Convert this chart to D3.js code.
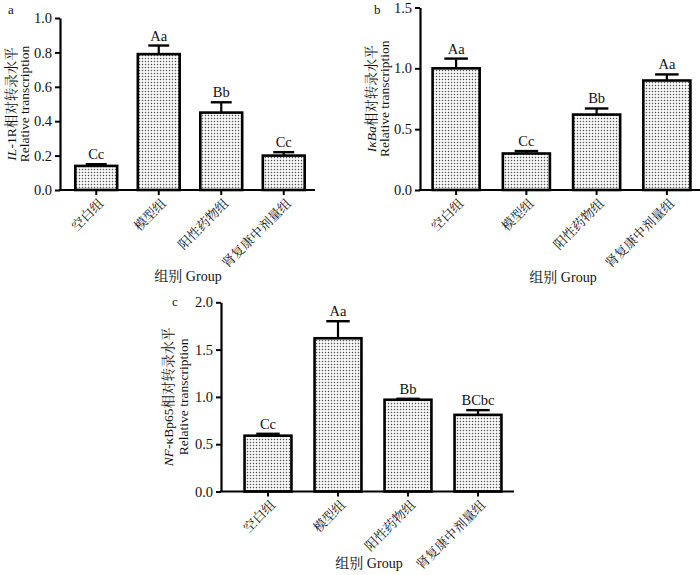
<!DOCTYPE html>
<html><head><meta charset="utf-8">
<script src="https://cdn.jsdelivr.net/npm/d3@7"></script>
<style>
html,body{margin:0;padding:0;background:#fff;}
svg{display:block;}
text{font-family:"Liberation Serif","Noto Serif CJK SC","Noto Sans CJK SC",serif;fill:#111;}
</style></head>
<body>
<svg id="chart" width="700" height="575"></svg>
<script>
// ---- data ----
const categories = ["空白组", "模型组", "阳性药物组", "肾复康中剂量组"];

const il1rValues = [0.14, 0.79, 0.45, 0.20];
const il1rErrors = [0.01, 0.05, 0.06, 0.02];
const il1rLetters = ["Cc", "Aa", "Bb", "Cc"];
const il1rTicks = [0, 0.2, 0.4, 0.6, 0.8, 1.0];

const ikbaValues = [1.00, 0.30, 0.62, 0.90];
const ikbaErrors = [0.08, 0.02, 0.05, 0.05];
const ikbaLetters = ["Aa", "Cc", "Bb", "Aa"];
const ikbaTicks = [0, 0.5, 1.0, 1.5];

const nfValues = [0.59, 1.62, 0.97, 0.81];
const nfErrors = [0.02, 0.18, 0.01, 0.05];
const nfLetters = ["Cc", "Aa", "Bb", "BCbc"];
const nfTicks = [0, 0.5, 1.0, 1.5, 2.0];

const xTitle = "组别 Group";
const yTitle2 = "Relative transcription";

// ---- layout ----
const svg = d3.select("#chart");
const defs = svg.append("defs");
const pat = defs.append("pattern").attr("id", "dots")
  .attr("patternUnits", "userSpaceOnUse").attr("width", 3).attr("height", 3);
pat.append("rect").attr("width", 3).attr("height", 3).attr("fill", "#fff");
pat.append("rect").attr("x", 0.8).attr("y", 0.8).attr("width", 1.4).attr("height", 1.4).attr("fill", "#555");

const panels = [
  {letter: "a", values: il1rValues, errors: il1rErrors, sig: il1rLetters, ticks: il1rTicks,
   ymax: 1.0, axisX: 60, xr: [65, 315], xEnd: 315, y0: 190, y1: 18, t1: 44, t2: 31,
   title1: [["IL", true], ["-1R相对转录水平", false]], letterPos: [8, 14], xTitlePos: [188, 281]},
  {letter: "b", values: ikbaValues, errors: ikbaErrors, sig: ikbaLetters, ticks: ikbaTicks,
   ymax: 1.5, axisX: 420, xr: [421, 702], xEnd: 700, y0: 190, y1: 7.5, t1: 44, t2: 31,
   title1: [["IκBa", true], ["相对转录水平", false]], letterPos: [374, 14], xTitlePos: [563, 282]},
  {letter: "c", values: nfValues, errors: nfErrors, sig: nfLetters, ticks: nfTicks,
   ymax: 2.0, axisX: 221, xr: [233, 513], xEnd: 514, y0: 491.5, y1: 302.3, t1: 48, t2: 33,
   title1: [["NF", true], ["-κBp65相对转录水平", false]], letterPos: [172, 306], xTitlePos: [369, 568]}
];

panels.forEach(p => {
  const g = svg.append("g");
  const x = d3.scaleBand().domain(categories).range(p.xr).paddingInner(0.33).paddingOuter(0.165);
  const y = d3.scaleLinear().domain([0, p.ymax]).range([p.y0, p.y1]);

  // bars
  g.selectAll("rect.bar").data(categories).join("rect")
    .attr("class", "bar")
    .attr("x", d => x(d))
    .attr("width", x.bandwidth())
    .attr("y", (d, i) => y(p.values[i]))
    .attr("height", (d, i) => y(0) - y(p.values[i]))
    .attr("fill", "url(#dots)")
    .attr("stroke", "#000").attr("stroke-width", 2.6);

  // error bars
  const capW = x.bandwidth() * 0.5;
  categories.forEach((c, i) => {
    const cx = x(c) + x.bandwidth() / 2;
    const top = y(p.values[i] + p.errors[i]);
    g.append("line").attr("x1", cx).attr("x2", cx)
      .attr("y1", y(p.values[i])).attr("y2", top)
      .attr("stroke", "#000").attr("stroke-width", 2.2);
    g.append("line").attr("x1", cx - capW / 2).attr("x2", cx + capW / 2)
      .attr("y1", top).attr("y2", top)
      .attr("stroke", "#000").attr("stroke-width", 2.4);
    g.append("text").attr("x", cx).attr("y", top - 5)
      .attr("text-anchor", "middle").attr("font-size", 14.5)
      .text(p.sig[i]);
  });

  // y axis
  const yAxis = d3.axisLeft(y).tickValues(p.ticks).tickFormat(d3.format(".1f"))
    .tickSize(5).tickSizeOuter(0).tickPadding(3);
  const ya = g.append("g").attr("transform", `translate(${p.axisX},0)`).call(yAxis);
  ya.select(".domain").attr("stroke", "#000").attr("stroke-width", 2.2);
  ya.selectAll(".tick line").attr("stroke", "#000").attr("stroke-width", 2);
  ya.selectAll(".tick text").attr("font-size", 14.5).attr("fill", "#111");

  // x axis
  const xAxis = d3.axisBottom(x).tickSize(5).tickSizeOuter(0).tickFormat("");
  const xa = g.append("g").attr("transform", `translate(0,${p.y0})`).call(xAxis);
  xa.select(".domain").attr("d", `M${p.axisX - 1},0H${p.xEnd}`)
    .attr("stroke", "#000").attr("stroke-width", 2.2);
  xa.selectAll(".tick line").attr("stroke", "#000").attr("stroke-width", 2);

  // rotated category labels
  categories.forEach(c => {
    const cx = x(c) + x.bandwidth() / 2;
    g.append("text")
      .attr("transform", `translate(${cx + 5},${p.y0 + 11}) rotate(-45)`)
      .attr("text-anchor", "end").attr("font-size", 13)
      .attr("dy", "0.35em")
      .text(c);
  });

  // y title (two lines)
  const ymid = (p.y0 + p.y1) / 2;
  const t1 = g.append("text")
    .attr("transform", `translate(${p.axisX - p.t1},${ymid}) rotate(-90)`)
    .attr("text-anchor", "middle").attr("font-size", 13.5);
  p.title1.forEach(([s, it]) => {
    t1.append("tspan").attr("font-style", it ? "italic" : "normal").text(s);
  });
  g.append("text")
    .attr("transform", `translate(${p.axisX - p.t2},${ymid}) rotate(-90)`)
    .attr("text-anchor", "middle").attr("font-size", 13.5)
    .text(yTitle2);

  // x title
  g.append("text").attr("x", p.xTitlePos[0]).attr("y", p.xTitlePos[1])
    .attr("text-anchor", "middle").attr("font-size", 14)
    .text(xTitle);

  // panel letter
  g.append("text").attr("x", p.letterPos[0]).attr("y", p.letterPos[1])
    .attr("font-size", 13).text(p.letter);
});
</script>
</body></html>
